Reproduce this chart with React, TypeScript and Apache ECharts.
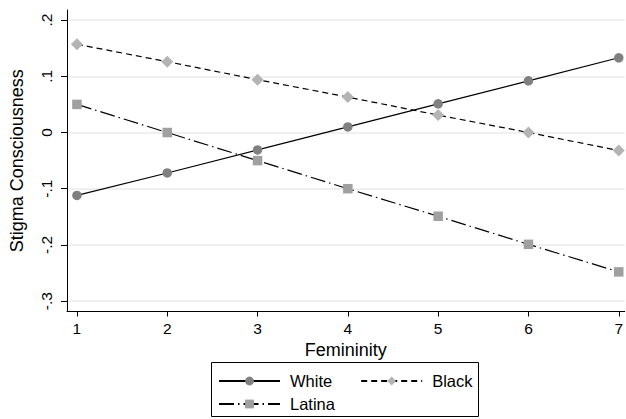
import React, { useEffect, useRef } from "react";
import * as echarts from "echarts";

const femininity = [1, 2, 3, 4, 5, 6, 7];
const white = [-0.112, -0.072, -0.031, 0.01, 0.051, 0.092, 0.133];
const black = [0.157, 0.126, 0.094, 0.063, 0.031, 0.0, -0.032];
const latina = [0.05, 0.0, -0.05, -0.1, -0.149, -0.199, -0.248];
const yTicks = [-0.3, -0.2, -0.1, 0, 0.1, 0.2];
const xTicks = [1, 2, 3, 4, 5, 6, 7];

const FONT = "Liberation Sans, Arial, Helvetica, sans-serif";

function fmtY(v: number): string {
  const r = Math.round(v * 10) / 10;
  if (r === 0) return "0";
  const s = r.toString();
  return s.replace("0.", ".");
}

export default function App() {
  const ref = useRef<HTMLDivElement>(null);
  useEffect(() => {
    if (!ref.current) return;
    const chart = echarts.init(ref.current, undefined, { renderer: "svg" });
    const pts = (arr: number[]) => femininity.map((x, i) => [x, arr[i]]);
    const legendText = { fontSize: 16.5, color: "#000", fontFamily: FONT, padding: [0, 0, 0, 5] };
    chart.setOption({
      animation: false,
      backgroundColor: "#ffffff",
      textStyle: { fontFamily: FONT },
      grid: { left: 61, right: 0, top: 10, bottom: 107.5 },
      xAxis: {
        type: "value",
        min: 0.89,
        max: 7.066,
        name: "Femininity",
        nameLocation: "middle",
        nameGap: 28,
        nameTextStyle: { fontSize: 18, color: "#000", fontFamily: FONT },
        axisLine: { show: true, onZero: false, lineStyle: { color: "#000", width: 1 } },
        axisTick: { show: true, length: 5, customValues: xTicks, lineStyle: { color: "#000" } },
        axisLabel: { customValues: xTicks, fontSize: 15.5, color: "#000", margin: 9, fontFamily: FONT },
        splitLine: { show: false },
      },
      yAxis: {
        type: "value",
        min: -0.3185,
        max: 0.218,
        name: "Stigma Consciousness",
        nameLocation: "middle",
        nameGap: 41,
        nameTextStyle: { fontSize: 18, color: "#000", fontFamily: FONT },
        axisLine: { show: true, onZero: false, lineStyle: { color: "#000", width: 1 } },
        axisTick: { show: true, length: 6, customValues: yTicks, lineStyle: { color: "#000" } },
        axisLabel: {
          customValues: yTicks,
          rotate: 90,
          fontSize: 15.5,
          color: "#000",
          margin: 13,
          fontFamily: FONT,
          formatter: (v: number) => fmtY(v),
        },
        splitLine: { show: true, lineStyle: { color: "#ebebeb", width: 1.5 } },
      },
      legend: [
        {
          data: ["White", "Black"],
          left: 218,
          top: 372.5,
          padding: 0,
          itemWidth: 61,
          itemHeight: 11,
          itemGap: 28,
          textStyle: legendText,
        },
        {
          data: ["Latina"],
          left: 218,
          top: 395.5,
          padding: 0,
          itemWidth: 61,
          itemHeight: 11,
          textStyle: legendText,
        },
      ],
      graphic: [
        {
          type: "rect",
          shape: { x: 211.5, y: 362.5, width: 267, height: 54 },
          style: { fill: "none", stroke: "#000", lineWidth: 1 },
          silent: true,
        },
      ],
      series: [
        {
          name: "White",
          type: "line",
          data: pts(white),
          symbol: "circle",
          symbolSize: 9.5,
          itemStyle: { color: "#808080" },
          lineStyle: { color: "#000", width: 1.2, type: "solid" },
        },
        {
          name: "Black",
          type: "line",
          data: pts(black),
          symbol: "diamond",
          symbolSize: 12,
          itemStyle: { color: "#b4b4b4" },
          lineStyle: { color: "#000", width: 1.2, type: [6, 4] },
        },
        {
          name: "Latina",
          type: "line",
          data: pts(latina),
          symbol: "rect",
          symbolSize: 9.5,
          itemStyle: { color: "#a0a0a0" },
          lineStyle: { color: "#000", width: 1.2, type: [15, 4, 1.5, 4] },
        },
      ],
    });
    return () => chart.dispose();
  }, []);
  return (
    <div
      ref={ref}
      style={{ position: "absolute", left: 0, top: 0, width: 626, height: 419 }}
    />
  );
}
